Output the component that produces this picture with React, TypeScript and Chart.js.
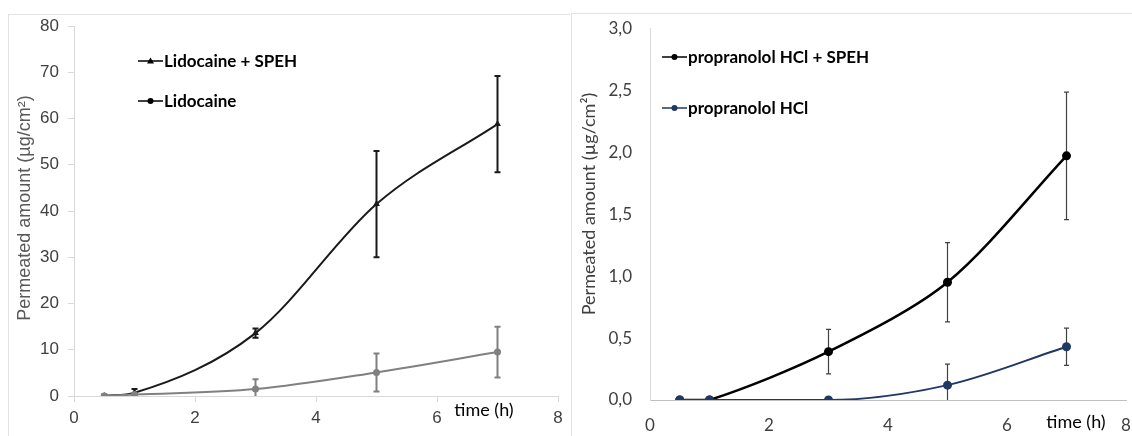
import React, { useEffect, useRef } from "react";
import { Chart, registerables } from "chart.js";

Chart.register(...registerables);

// Sampling times (h)
const timeH = [0.5, 1, 3, 5, 7];
const xTickStep = 2;

// Lidocaine permeation (µg/cm²) with SD
const lidoSpeh = [0, 0.7, 13.6, 41.5, 58.8];
const lidoSpehSd = [0.3, 0.8, 1.0, 11.5, 10.4];
const lido = [0, 0.3, 1.5, 5.1, 9.5];
const lidoSd = [0.2, 0.3, 2.1, 4.1, 5.5];

// Propranolol HCl permeation (µg/cm²) with SD
const propSpeh = [0, 0, 0.39, 0.95, 1.97];
const propSpehSd = [0, 0, 0.18, 0.32, 0.515];
const prop = [0, 0, 0, 0.12, 0.43];
const propSd = [0, 0, 0, 0.17, 0.15];

const ARIAL = '"Liberation Sans", Arial, sans-serif';
const CALIBRI = 'Lato, "Noto Sans", sans-serif';
const Y_TITLE = "Permeated amount (\u00b5g/cm\u00b2)";
const X_TITLE = "time (h)";

type ErrSpec = { values: number[]; sd: number[]; color: string; width: number; cap: number };
type LegendSpec = { text: string; color: string; marker: "circle" | "triangle"; x: number; y: number };
type TextSpec = {
  yTitle: { x: number; y: number; font: string; color: string };
  xTitle: { x: number; y: number; font: string; color: string };
  legendFont: string;
  legend: LegendSpec[];
};

function toPoints(values: number[]) {
  return timeH.map((t, i) => ({ x: t, y: values[i] }));
}

function errorBarsPlugin(specs: ErrSpec[]) {
  return {
    id: "errorBars",
    beforeDatasetsDraw(chart: any) {
      const { ctx, chartArea, scales } = chart;
      const xs = scales.x;
      const ys = scales.y;
      ctx.save();
      ctx.beginPath();
      ctx.rect(chartArea.left, chartArea.top - 2, chartArea.right - chartArea.left, chartArea.bottom - chartArea.top + 2);
      ctx.clip();
      specs.forEach((s) => {
        ctx.strokeStyle = s.color;
        ctx.lineWidth = s.width;
        s.values.forEach((v, i) => {
          const e = s.sd[i];
          if (!e) return;
          const px = xs.getPixelForValue(timeH[i]);
          const top = ys.getPixelForValue(v + e);
          const bot = ys.getPixelForValue(v - e);
          ctx.beginPath();
          ctx.moveTo(px, top);
          ctx.lineTo(px, bot);
          ctx.moveTo(px - s.cap, top);
          ctx.lineTo(px + s.cap, top);
          ctx.moveTo(px - s.cap, bot);
          ctx.lineTo(px + s.cap, bot);
          ctx.stroke();
        });
      });
      ctx.restore();
    },
  };
}

function textPlugin(spec: TextSpec) {
  return {
    id: "chartTexts",
    afterDraw(chart: any) {
      const { ctx } = chart;
      ctx.save();
      // rotated y-axis title
      ctx.save();
      ctx.translate(spec.yTitle.x, spec.yTitle.y);
      ctx.rotate(-Math.PI / 2);
      ctx.font = spec.yTitle.font;
      ctx.fillStyle = spec.yTitle.color;
      ctx.textAlign = "center";
      ctx.textBaseline = "middle";
      ctx.fillText(Y_TITLE, 0, 0);
      ctx.restore();
      // x-axis title
      ctx.font = spec.xTitle.font;
      ctx.fillStyle = spec.xTitle.color;
      ctx.textAlign = "center";
      ctx.textBaseline = "middle";
      ctx.fillText(X_TITLE, spec.xTitle.x, spec.xTitle.y);
      // legend
      spec.legend.forEach((item) => {
        ctx.strokeStyle = item.color;
        ctx.fillStyle = item.color;
        ctx.lineWidth = 1.5;
        ctx.beginPath();
        ctx.moveTo(item.x, item.y);
        ctx.lineTo(item.x + 25, item.y);
        ctx.stroke();
        const cx = item.x + 12.5;
        ctx.beginPath();
        if (item.marker === "circle") {
          ctx.arc(cx, item.y, 3, 0, Math.PI * 2);
        } else {
          ctx.moveTo(cx, item.y - 3.5);
          ctx.lineTo(cx + 3.5, item.y + 2.5);
          ctx.lineTo(cx - 3.5, item.y + 2.5);
          ctx.closePath();
        }
        ctx.fill();
        ctx.fillStyle = "#000000";
        ctx.font = spec.legendFont;
        ctx.textAlign = "left";
        ctx.textBaseline = "middle";
        ctx.fillText(item.text, item.x + 26, item.y + 1);
      });
      ctx.restore();
    },
  };
}

function ChartCanvas({ width, height, config, style }: { width: number; height: number; config: () => any; style: React.CSSProperties }) {
  const ref = useRef<HTMLCanvasElement | null>(null);
  useEffect(() => {
    if (!ref.current) return;
    const chart = new Chart(ref.current, config());
    return () => chart.destroy();
  }, []);
  return <canvas ref={ref} width={width} height={height} style={{ position: "absolute", width, height, ...style }} />;
}

function lidocaineConfig() {
  return {
    type: "line",
    data: {
      datasets: [
        {
          label: "Lidocaine",
          data: toPoints(lido),
          borderColor: "#808080",
          backgroundColor: "#808080",
          borderWidth: 2,
          pointStyle: "circle",
          pointRadius: 3.5,
          pointBorderWidth: 0,
          cubicInterpolationMode: "monotone",
          order: 0,
        },
        {
          label: "Lidocaine + SPEH",
          data: toPoints(lidoSpeh),
          borderColor: "#1a1a1a",
          backgroundColor: "#1a1a1a",
          borderWidth: 2,
          pointStyle: "triangle",
          pointRadius: 4,
          pointBorderWidth: 0,
          cubicInterpolationMode: "monotone",
          order: 1,
        },
      ],
    },
    options: {
      responsive: false,
      maintainAspectRatio: false,
      animation: false,
      events: [],
      layout: { padding: { left: 0, right: 12, top: 26, bottom: 0 } },
      plugins: { legend: { display: false }, tooltip: { enabled: false } },
      scales: {
        x: {
          type: "linear",
          min: 0,
          max: 8,
          ticks: { stepSize: xTickStep, color: "#404040", font: { family: ARIAL, size: 17 }, padding: 6, maxRotation: 0 },
          grid: { drawOnChartArea: false, color: "#d9d9d9", tickLength: 6 },
          border: { color: "#d9d9d9" },
          afterFit: (s: any) => {
            s.height = 40;
          },
        },
        y: {
          min: 0,
          max: 80,
          ticks: { stepSize: 10, color: "#404040", font: { family: ARIAL, size: 17 }, padding: 9 },
          grid: { drawOnChartArea: false, color: "#d9d9d9", tickLength: 6 },
          border: { color: "#d9d9d9" },
          afterFit: (s: any) => {
            s.width = 74;
          },
        },
      },
    },
    plugins: [
      errorBarsPlugin([
        { values: lidoSpeh, sd: lidoSpehSd, color: "#1a1a1a", width: 2, cap: 3 },
        { values: lido, sd: lidoSd, color: "#808080", width: 2, cap: 3 },
      ]),
      textPlugin({
        yTitle: { x: 25, y: 208, font: `18px ${ARIAL}`, color: "#595959" },
        xTitle: { x: 484, y: 410, font: `18px ${CALIBRI}`, color: "#000000" },
        legendFont: `bold 17px ${CALIBRI}`,
        legend: [
          { text: "Lidocaine + SPEH", color: "#000000", marker: "triangle", x: 138, y: 61 },
          { text: "Lidocaine", color: "#000000", marker: "circle", x: 138, y: 101 },
        ],
      }),
    ],
  };
}

function propranololConfig() {
  return {
    type: "line",
    data: {
      datasets: [
        {
          label: "propranolol HCl",
          data: toPoints(prop),
          borderColor: "#1f3864",
          backgroundColor: "#1f3864",
          borderWidth: 2,
          pointStyle: "circle",
          pointRadius: 4.5,
          pointBorderWidth: 0,
          cubicInterpolationMode: "monotone",
          order: 0,
        },
        {
          label: "propranolol HCl + SPEH",
          data: toPoints(propSpeh),
          borderColor: "#000000",
          backgroundColor: "#000000",
          borderWidth: 2.5,
          pointStyle: "circle",
          pointRadius: 4.5,
          pointBorderWidth: 0,
          tension: 0.3,
          order: 1,
        },
      ],
    },
    options: {
      responsive: false,
      maintainAspectRatio: false,
      animation: false,
      events: [],
      layout: { padding: { left: 0, right: 6, top: 27, bottom: 0 } },
      plugins: { legend: { display: false }, tooltip: { enabled: false } },
      scales: {
        x: {
          type: "linear",
          min: 0,
          max: 8,
          ticks: { stepSize: xTickStep, color: "#404040", font: { family: CALIBRI, size: 17 }, padding: 0, maxRotation: 0 },
          grid: { drawOnChartArea: false, drawTicks: true, tickLength: 15, color: "rgba(0,0,0,0)" },
          border: { color: "#bfbfbf" },
          afterFit: (s: any) => {
            s.height = 36;
          },
        },
        y: {
          min: 0,
          max: 3,
          ticks: {
            stepSize: 0.5,
            color: "#404040",
            font: { family: CALIBRI, size: 17 },
            padding: 18,
            callback: (v: number) => v.toFixed(1).replace(".", ","),
          },
          grid: { drawOnChartArea: false, drawTicks: false },
          border: { color: "#d9d9d9" },
          afterFit: (s: any) => {
            s.width = 79;
          },
        },
      },
    },
    plugins: [
      errorBarsPlugin([
        { values: propSpeh, sd: propSpehSd, color: "#404040", width: 1.2, cap: 2.5 },
        { values: prop, sd: propSd, color: "#404040", width: 1.2, cap: 2.5 },
      ]),
      textPlugin({
        yTitle: { x: 18, y: 204, font: `18px ${CALIBRI}`, color: "#404040" },
        xTitle: { x: 505, y: 422, font: `18px ${CALIBRI}`, color: "#000000" },
        legendFont: `bold 17px ${CALIBRI}`,
        legend: [
          { text: "propranolol HCl + SPEH", color: "#000000", marker: "circle", x: 91, y: 57 },
          { text: "propranolol HCl", color: "#1f3864", marker: "circle", x: 91, y: 108 },
        ],
      }),
    ],
  };
}

export default function App() {
  return (
    <div style={{ position: "absolute", left: 0, top: 0, width: 1132, height: 436, background: "#ffffff", overflow: "hidden" }}>
      <div style={{ position: "absolute", left: 8, top: 14, width: 561, height: 440, borderTop: "1px solid #e3e3e3", borderLeft: "1px solid #e3e3e3" }} />
      <div style={{ position: "absolute", left: 571, top: 13, width: 570, height: 440, borderTop: "1px solid #e3e3e3", borderLeft: "1px solid #e3e3e3" }} />
      <ChartCanvas width={570} height={436} config={lidocaineConfig} style={{ left: 0, top: 0 }} />
      <ChartCanvas width={561} height={436} config={propranololConfig} style={{ left: 571, top: 0 }} />
    </div>
  );
}
